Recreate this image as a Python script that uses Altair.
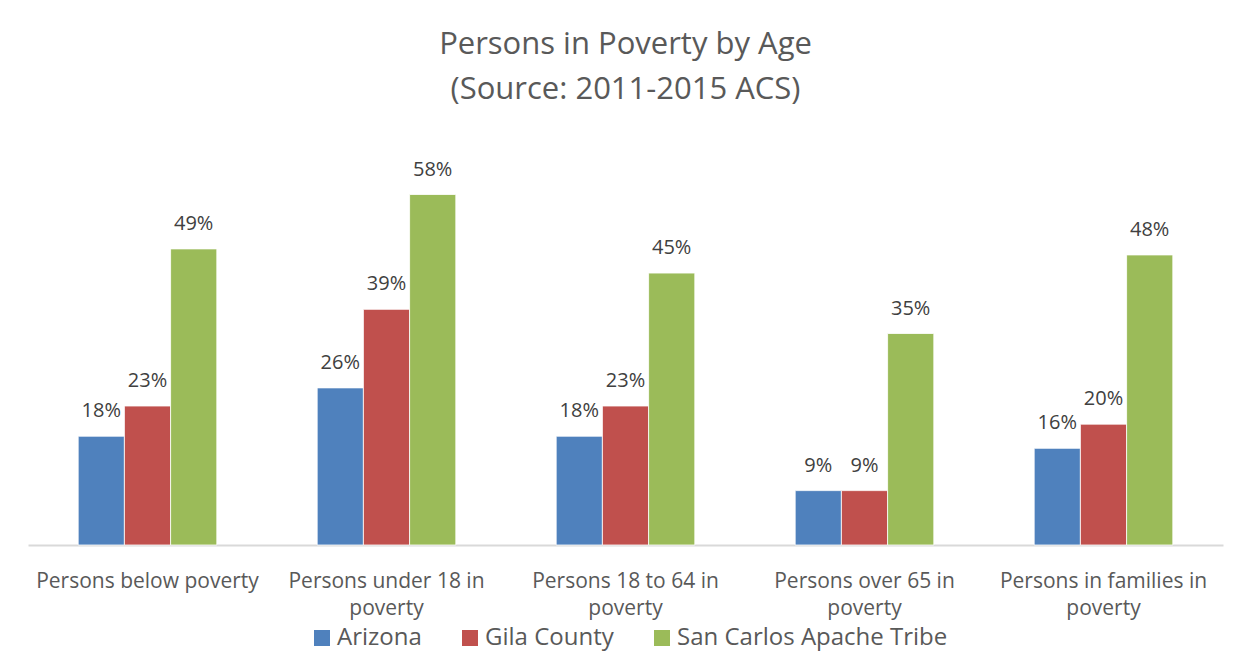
import altair as alt
import pandas as pd

categories = [
    "Persons below poverty",
    "Persons under 18 in poverty",
    "Persons 18 to 64 in poverty",
    "Persons over 65 in poverty",
    "Persons in families in poverty",
]
category_lines = [
    ["Persons below poverty"],
    ["Persons under 18 in", "poverty"],
    ["Persons 18 to 64 in", "poverty"],
    ["Persons over 65 in", "poverty"],
    ["Persons in families in", "poverty"],
]
series = ["Arizona", "Gila County", "San Carlos Apache Tribe"]
arizona = [18, 26, 18, 9, 16]
gila_county = [23, 39, 23, 9, 20]
san_carlos = [49, 58, 45, 35, 48]
colors = ["#4F81BD", "#C0504D", "#9BBB59"]

rows = []
for s, vals in zip(series, [arizona, gila_county, san_carlos]):
    for c, v in zip(categories, vals):
        rows.append({"category": c, "series": s, "value": v / 100.0})
df = pd.DataFrame(rows)

# build label expression for wrapped axis labels
parts = []
for c, lines in zip(categories, category_lines):
    arr = "[" + ",".join("'" + l + "'" for l in lines) + "]"
    parts.append(f"datum.label == '{c}' ? {arr}")
label_expr = " : ".join(parts) + " : datum.label"

FONT = "Open Sans"

base = alt.Chart(df).encode(
    x=alt.X(
        "category:N",
        sort=categories,
        title=None,
        scale=alt.Scale(paddingInner=0.42, paddingOuter=0.21),
        axis=alt.Axis(
            labelExpr=label_expr,
            labelAngle=0,
            labelFont=FONT,
            labelFontSize=21,
            labelColor="#595959",
            labelLineHeight=27,
            labelPadding=25,
            labelLimit=400,
            ticks=False,
            domainColor="#D9D9D9",
            domainWidth=2,
            grid=False,
        ),
    ),
    xOffset=alt.XOffset("series:N", sort=series),
    y=alt.Y(
        "value:Q",
        scale=alt.Scale(domain=[0, 0.7], nice=False),
        axis=None,
    ),
)

bars = base.mark_bar(stroke="white", strokeWidth=0.8).encode(
    color=alt.Color(
        "series:N",
        sort=series,
        scale=alt.Scale(domain=series, range=colors),
        legend=alt.Legend(
            title=None,
            orient="none",
            direction="horizontal",
            legendX=282,
            legendY=504,
            symbolType="square",
            symbolSize=256,
            symbolStrokeWidth=0,
            labelFont=FONT,
            labelFontSize=24,
            labelColor="#595959",
            labelOffset=3,
            columnPadding=36,
            labelLimit=400,
        ),
    )
)

labels = base.mark_text(
    baseline="alphabetic", dy=-19, font=FONT, fontSize=20, color="#404040"
).encode(text=alt.Text("value:Q", format=".0%"))

chart = (
    alt.layer(bars, labels)
    .properties(
        width=1195,
        height=423,
        background="white",
        padding={"left": 20, "top": 114, "right": 19, "bottom": 119},
        autosize=alt.AutoSizeParams(type="none"),
        title=alt.TitleParams(
            text=["Persons in Poverty by Age", "(Source: 2011-2015 ACS)"],
            font=FONT,
            fontSize=31,
            fontWeight="normal",
            color="#595959",
            lineHeight=45,
            anchor="middle",
            frame="group",
            offset=16,
        ),
    )
    .configure_view(strokeWidth=0, stroke="transparent")
)

chart.save("out.html", embed_options={"renderer": "svg", "actions": False})
